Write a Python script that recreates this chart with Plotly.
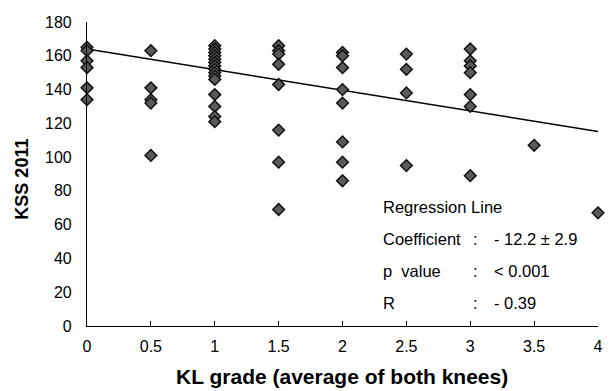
import plotly.graph_objects as go

# Data (KL grade vs KSS 2011)
kl_grade = ([0]*6 + [0.5]*5 + [1]*15 + [1.5]*8 + [2]*8 + [2.5]*4 + [3]*7 + [3.5] + [4])
kss_2011 = [165, 163, 157, 153, 141, 134,
            163, 141, 134, 132, 101,
            166, 164, 162, 160, 158, 156, 154, 152, 150, 148, 146, 137, 130, 124, 121,
            166, 163, 161, 155, 143, 116, 97, 69,
            162, 160, 153, 140, 132, 109, 97, 86,
            161, 152, 138, 95,
            164, 157, 154, 150, 137, 130, 89,
            107,
            67]

# Regression line endpoints (intercept 164, coefficient -12.2)
reg_x = [0, 4]
reg_y = [164, 115.2]

x_ticks = [0, 0.5, 1, 1.5, 2, 2.5, 3, 3.5, 4]
x_ticktext = ["0", "0.5", "1", "1.5", "2", "2.5", "3", "3.5", "4"]
y_ticks = [0, 20, 40, 60, 80, 100, 120, 140, 160, 180]

x_title = "KL grade (average of both knees)"
y_title = "KSS 2011"
stat_header = "Regression Line"
stat_labels = ["Coefficient", "p  value", "R"]
stat_values = ["- 12.2 \u00b1 2.9", "< 0.001", "- 0.39"]

FONT = "Liberation Sans, Arial, sans-serif"

# plot area in pixels
plot_l, plot_r, plot_t, plot_b = 87, 603, 22, 326
W, H = 610, 391


def px(xp):
    return (xp - plot_l) / (plot_r - plot_l)


def py(yp):
    return (plot_b - yp) / (plot_b - plot_t)


fig = go.Figure()
fig.add_trace(go.Scatter(x=reg_x, y=reg_y, mode="lines",
                         line=dict(color="black", width=1.5),
                         showlegend=False, cliponaxis=False))
fig.add_trace(go.Scatter(x=kl_grade, y=kss_2011, mode="markers",
                         marker=dict(symbol="diamond", size=9, color="#5a5a5a",
                                     line=dict(color="#111111", width=1.5)),
                         showlegend=False, cliponaxis=False))

fig.update_layout(
    width=W, height=H,
    margin=dict(l=plot_l, r=W - plot_r, t=plot_t, b=H - plot_b),
    paper_bgcolor="white", plot_bgcolor="white",
    font=dict(family=FONT, size=16, color="black"),
    xaxis=dict(range=[0, 4], tickvals=x_ticks, ticktext=x_ticktext,
               showgrid=False, zeroline=False, showline=True,
               linecolor="black", linewidth=1.2,
               ticks="inside", ticklen=5, tickcolor="black",
               ticklabelstandoff=6,
               tickfont=dict(size=16)),
    yaxis=dict(range=[0, 180], tickvals=y_ticks,
               showgrid=False, zeroline=False, showline=True,
               linecolor="black", linewidth=1.2,
               ticks="", ticklabelstandoff=11,
               tickfont=dict(size=16)),
)

# axis titles as annotations placed by pixel
fig.add_annotation(x=px(344), y=py(377), xref="paper", yref="paper",
                   text="<b>" + x_title + "</b>", showarrow=False,
                   xanchor="center", yanchor="middle", font=dict(size=21))
fig.add_annotation(x=px(21), y=py(179), xref="paper", yref="paper",
                   text="<b>" + y_title + "</b>", showarrow=False, textangle=-90,
                   xanchor="center", yanchor="middle", font=dict(size=18))

# statistics box
fig.add_annotation(x=px(384), y=py(207), xref="paper", yref="paper",
                   text=stat_header, showarrow=False,
                   xanchor="left", yanchor="middle", font=dict(size=16.5))
for i, (lab, val) in enumerate(zip(stat_labels, stat_values)):
    yy = 239 + 32 * i
    fig.add_annotation(x=px(384), y=py(yy), xref="paper", yref="paper",
                       text=lab, showarrow=False,
                       xanchor="left", yanchor="middle", font=dict(size=16.5))
    fig.add_annotation(x=px(475), y=py(yy), xref="paper", yref="paper",
                       text=":", showarrow=False,
                       xanchor="left", yanchor="middle", font=dict(size=16.5))
    fig.add_annotation(x=px(496), y=py(yy), xref="paper", yref="paper",
                       text=val, showarrow=False,
                       xanchor="left", yanchor="middle", font=dict(size=16.5))

fig.write_html("out.html")
